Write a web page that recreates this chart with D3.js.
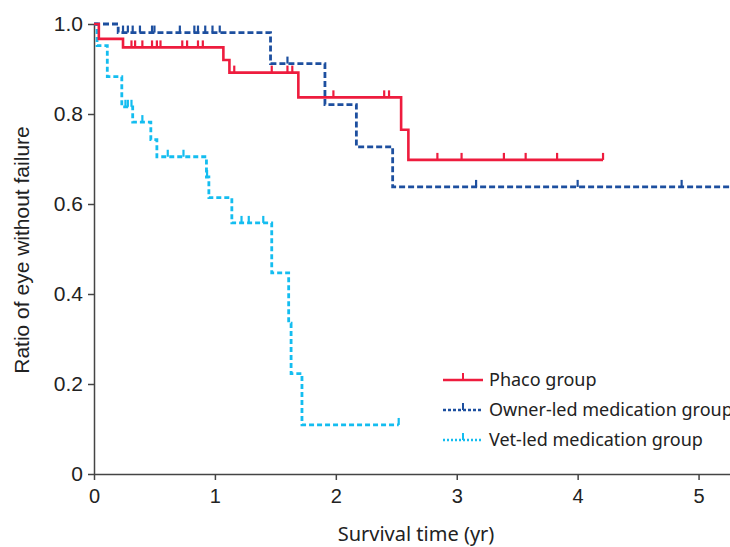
<!DOCTYPE html>
<html>
<head>
<meta charset="utf-8">
<script src="https://cdn.jsdelivr.net/npm/d3@7"></script>
<style>
  body { margin: 0; background: #fff; }
  svg text { fill: #222; }
</style>
</head>
<body>
<div id="chart"></div>
<script>
// Kaplan-Meier steps
var groupNames = ['Phaco group', 'Owner-led medication group', 'Vet-led medication group'];

var phacoTime = [0, 0.04, 0.24, 1.07, 1.12, 1.69, 2.54, 2.60];
var phacoSurv = [1.0, 0.967, 0.948, 0.920, 0.892, 0.837, 0.765, 0.698];
var phacoEnd = 4.21;
var phacoCensor = [0.31, 0.34, 0.40, 0.48, 0.52, 0.55, 0.73, 0.77, 0.86, 0.90,
                   1.16, 1.47, 1.60, 1.64, 1.98, 2.40, 2.44,
                   2.84, 3.04, 3.39, 3.57, 3.83, 4.21];

var ownerTime = [0, 0.20, 1.46, 1.91, 2.17, 2.47];
var ownerSurv = [1.0, 0.981, 0.912, 0.821, 0.727, 0.638];
var ownerEnd = 5.3;
var ownerCensor = [0.24, 0.28, 0.32, 0.38, 0.48, 0.50, 0.71, 0.83, 0.86, 0.92, 0.98, 1.04,
                   1.60, 3.16, 4.00, 4.86];

var vetTime = [0, 0.025, 0.11, 0.23, 0.32, 0.47, 0.52, 0.93, 0.95, 1.14, 1.47, 1.61, 1.63, 1.72];
var vetSurv = [1.0, 0.952, 0.883, 0.816, 0.782, 0.743, 0.705, 0.660, 0.614, 0.558, 0.447, 0.335, 0.223, 0.109];
var vetEnd = 2.52;
var vetCensor = [0.26, 0.28, 0.31, 0.40, 0.61, 0.74, 0.935, 1.22, 1.28, 1.40, 2.52];

var xTicks = [0, 1, 2, 3, 4, 5];
var yTicks = [0, 0.2, 0.4, 0.6, 0.8, 1.0];

var w = 730, h = 547;
var x0 = 94, y0 = 474;

var x = d3.scaleLinear().domain([0, 5.26]).range([x0, 730]);
var y = d3.scaleLinear().domain([0, 1]).range([y0, 24]);

var svg = d3.select('#chart').append('svg')
    .attr('width', w).attr('height', h)
    .style('font-family', '"Liberation Sans", Arial, sans-serif');

svg.append('defs').append('clipPath').attr('id', 'clip')
    .append('rect').attr('x', 0).attr('y', 0).attr('width', 730).attr('height', 547);

// axes
var xAxis = svg.append('g')
    .attr('transform', 'translate(0,' + y0 + ')')
    .call(d3.axisBottom(x).tickValues(xTicks).tickFormat(d3.format('d')).tickSize(6).tickSizeOuter(0));
xAxis.select('.domain').attr('stroke', '#444').attr('stroke-width', 1.5);
xAxis.selectAll('.tick line').attr('stroke', '#444').attr('stroke-width', 1.5);
xAxis.selectAll('.tick text').attr('font-size', 20).attr('dy', '1.0em').attr('fill', '#222');

var yAxis = svg.append('g')
    .attr('transform', 'translate(' + x0 + ',0)')
    .call(d3.axisLeft(y).tickValues(yTicks)
        .tickFormat(function(d) { return d === 0 ? '0' : d3.format('.1f')(d); })
        .tickSize(6).tickSizeOuter(0));
yAxis.select('.domain').attr('stroke', '#444').attr('stroke-width', 1.5);
yAxis.selectAll('.tick line').attr('stroke', '#444').attr('stroke-width', 1.5);
yAxis.selectAll('.tick text').attr('font-size', 21).attr('x', -11).attr('fill', '#222');

svg.append('text')
    .attr('transform', 'translate(29,' + (y(0.5) + 1) + ') rotate(-90)')
    .attr('text-anchor', 'middle')
    .attr('font-size', 21)
    .text('Ratio of eye without failure');

svg.append('text')
    .attr('x', 416).attr('y', 541)
    .attr('text-anchor', 'middle')
    .attr('font-size', 20)
    .style('font-family', '"Noto Sans", sans-serif')
    .text('Survival time (yr)');

// curves
var groups = [
  { name: groupNames[0], time: phacoTime, surv: phacoSurv, end: phacoEnd, censor: phacoCensor, color: '#ee1c3e', dash: null, width: 2.6 },
  { name: groupNames[1], time: ownerTime, surv: ownerSurv, end: ownerEnd, censor: ownerCensor, color: '#1d4f9f', dash: '6,3', width: 2.8 },
  { name: groupNames[2], time: vetTime, surv: vetSurv, end: vetEnd, censor: vetCensor, color: '#14bdf0', dash: '5,3', width: 2.8 }
];

function survAt(g, t) {
  var s = g.surv[0];
  for (var i = 0; i < g.time.length; i++) {
    if (g.time[i] <= t) s = g.surv[i];
  }
  return s;
}

var line = d3.line()
    .x(function(d) { return x(d[0]); })
    .y(function(d) { return y(d[1]); })
    .curve(d3.curveStepAfter);

var plot = svg.append('g').attr('clip-path', 'url(#clip)');

// draw the later groups first so phaco sits on top
groups.slice().reverse().forEach(function(g) {
  var pts = g.time.map(function(t, i) { return [t, g.surv[i]]; });
  pts.push([g.end, g.surv[g.surv.length - 1]]);
  plot.append('path')
      .datum(pts)
      .attr('d', line)
      .attr('fill', 'none')
      .attr('stroke', g.color)
      .attr('stroke-width', g.width)
      .attr('stroke-dasharray', g.dash);
  plot.selectAll(null)
      .data(g.censor)
      .enter()
      .append('line')
      .attr('x1', function(d) { return x(d); })
      .attr('x2', function(d) { return x(d); })
      .attr('y1', function(d) { return y(survAt(g, d)); })
      .attr('y2', function(d) { return y(survAt(g, d)) - 7; })
      .attr('stroke', g.color)
      .attr('stroke-width', 2.2);
});

// legend
var legend = svg.append('g')
    .style('font-family', '"Noto Sans", sans-serif');
var legendDash = [null, '3,2', '2,2'];
groups.forEach(function(g, i) {
  var ly = 380 + i * 30;
  legend.append('line')
      .attr('x1', 443).attr('x2', 483).attr('y1', ly).attr('y2', ly)
      .attr('stroke', g.color).attr('stroke-width', 2.4)
      .attr('stroke-dasharray', legendDash[i]);
  legend.append('line')
      .attr('x1', 463).attr('x2', 463).attr('y1', ly).attr('y2', ly - 7)
      .attr('stroke', g.color).attr('stroke-width', 2);
  legend.append('text')
      .attr('x', 489).attr('y', ly + 6)
      .attr('font-size', 18)
      .text(g.name);
});
</script>
</body>
</html>
